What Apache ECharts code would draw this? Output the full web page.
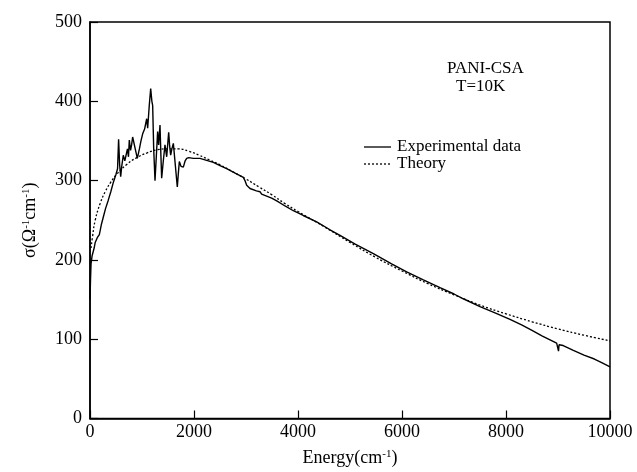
<!DOCTYPE html>
<html>
<head>
<meta charset="utf-8">
<script src="https://cdn.jsdelivr.net/npm/echarts@6/dist/echarts.min.js"></script>
<style>
html,body{margin:0;padding:0;background:#fff;}
#chart{width:637px;height:472px;}
</style>
</head>
<body>
<div id="chart"></div>
<script>
// Experimental data (energy cm^-1, sigma)
const expX = [0,10,20,40,60,80,100,140,180,220,260,300,350,400,450,500,530,550,570,590,610,640,670,692,720,740,756,780,800,820,846,870,910,950,980,1013,1050,1090,1109,1140,1167,1190,1205,1225,1250,1275,1301,1320,1346,1362,1378,1410,1442,1475,1513,1530,1551,1575,1603,1640,1679,1700,1718,1750,1795,1830,1859,1900,1987,2115,2372,2500,2628,2800,2949,2980,3013,3077,3200,3269,3300,3333,3494,3600,3750,3910,4100,4359,4615,4808,5100,5449,5800,6090,6400,6731,7000,7179,7500,7800,8077,8300,8500,8700,8974,9000,9010,9020,9100,9295,9500,9700,9850,10000];
const expY = [150,175,195,205,210,215,222,228,232,245,255,265,275,286,298,308,315,352,320,305,318,332,325,324,340,330,351,338,345,355,356,340,328,340,350,359,365,378,366,395,416,400,395,340,300,330,362,345,370,335,303,325,345,330,361,345,332,340,347,320,292,310,324,318,317,325,328,329,328,328,323,319,315,309,304,300,294,290,287,286,283,281,278,274,268,262,256,248,238,231,220,208,195,185,175,165,157,151,141,133,125,118,111,104,95,93,85,93,92,86,80,75,70,65];
// Theory curve
const theoryX = [20,50,100,200,300,400,500,700,900,1100,1300,1500,1700,1900,2100,2300,2500,2750,3000,3250,3500,3750,4000,4500,5000,5500,6000,6500,7000,7500,8000,8500,9000,9500,10000];
const theoryY = [215,230,250,272,287,298,307,320,329,335,339,340,340,337,332,326,320,311,302,292,282,271,261,242,222,203,186,170,156,143,132,122,113,105,98];
const xTicks = [0,2000,4000,6000,8000,10000];
const yTicks = [0,100,200,300,400,500];
const legendNames = ['Experimental data','Theory'];
const annotation = ['PANI-CSA','T=10K'];

const font = 'Liberation Serif, Times New Roman, serif';
const chart = echarts.init(document.getElementById('chart'));
chart.setOption({
  animation:false,
  backgroundColor:'#fff',
  grid:{left:90,right:27,top:22,bottom:53,show:true,borderColor:'#000',borderWidth:1.5},
  xAxis:{
    type:'value', min:xTicks[0], max:xTicks[xTicks.length-1], interval:2000,
    name:'{a|Energy(cm}{s|-1}{a|)}', nameLocation:'middle', nameGap:30,
    nameTextStyle:{rich:{a:{fontFamily:font,fontSize:18,color:'#000'},s:{fontFamily:font,fontSize:11,color:'#000',padding:[0,0,8,0]}}},
    axisLine:{show:true,lineStyle:{color:'#000',width:1.5}},
    axisTick:{show:true,inside:true,length:8,lineStyle:{color:'#000',width:1.2}},
    axisLabel:{fontFamily:font,fontSize:18,color:'#000',margin:5,formatter:v=>String(v)},
    splitLine:{show:false}
  },
  yAxis:{
    type:'value', min:yTicks[0], max:yTicks[yTicks.length-1], interval:100,
    name:'{a|σ(Ω}{s|-1}{a|cm}{s|-1}{a|)}', nameLocation:'middle', nameGap:50, nameRotate:90,
    nameTextStyle:{rich:{a:{fontFamily:font,fontSize:18,color:'#000'},s:{fontFamily:font,fontSize:11,color:'#000',padding:[0,0,8,0]}}},
    axisLine:{show:true,lineStyle:{color:'#000',width:1.5}},
    axisTick:{show:true,inside:true,length:8,lineStyle:{color:'#000',width:1.2}},
    axisLabel:{fontFamily:font,fontSize:18,color:'#000',margin:8,formatter:v=>String(v)},
    splitLine:{show:false}
  },
  graphic:[
    {type:'text',left:447,top:60,style:{text:annotation[0],font:'17px '+font,fill:'#000'}},
    {type:'text',left:456,top:78,style:{text:annotation[1],font:'17px '+font,fill:'#000'}},
    {type:'line',shape:{x1:364,y1:147,x2:391,y2:147},style:{stroke:'#000',lineWidth:1.3}},
    {type:'text',left:397,top:138,style:{text:legendNames[0],font:'17px '+font,fill:'#000'}},
    {type:'line',shape:{x1:364,y1:164,x2:391,y2:164},style:{stroke:'#000',lineWidth:1.3,lineDash:[2,2]}},
    {type:'text',left:397,top:155,style:{text:legendNames[1],font:'17px '+font,fill:'#000'}}
  ],
  series:[
    {name:legendNames[0],type:'line',showSymbol:false,symbol:'none',
     data:expX.map((x,i)=>[x,expY[i]]),
     lineStyle:{color:'#000',width:1.4}, itemStyle:{color:'#000'}},
    {name:legendNames[1],type:'line',showSymbol:false,symbol:'none',smooth:true,
     data:theoryX.map((x,i)=>[x,theoryY[i]]),
     lineStyle:{color:'#000',width:1.3,type:[2,2]}, itemStyle:{color:'#000'}}
  ]
});
</script>
</body>
</html>
